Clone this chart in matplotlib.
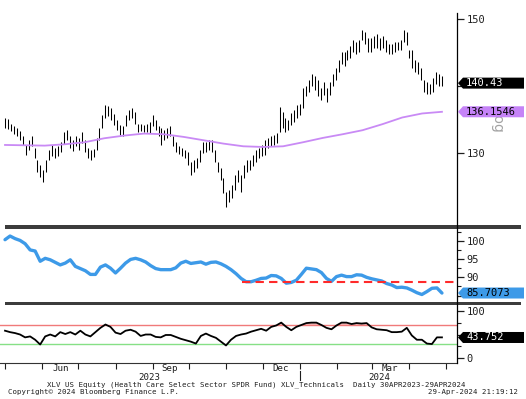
import numpy as np
import pandas as pd
import matplotlib
matplotlib.use("Agg")
import matplotlib.pyplot as plt
import matplotlib.dates as mdates
from matplotlib.patches import Polygon, Rectangle
from matplotlib.lines import Line2D
from matplotlib.transforms import IdentityTransform

plt.rcParams['font.family'] = ['DejaVu Sans Mono', 'DejaVu Sans']

# ---- data ----
FIRST_DAY = '2023-05-01'
LAST_DAY = '2024-04-28'
X_START = pd.Timestamp('2023-04-26 20:00')
X_END = pd.Timestamp('2024-05-10 12:00')

price_hi = [135.2, 135.1, 134.3, 134.0, 133.7, 133.3, 132.5, 131.2, 131.9, 132.5,
            130.7, 128.9, 128.2, 127.5, 128.9, 130.4, 131.2, 130.7, 131.0, 131.6,
            133.1, 133.4, 132.5, 131.9, 132.5, 132.2, 133.1, 131.9, 130.7, 130.4,
            130.6, 132.2, 133.7, 135.7, 137.2, 137.0, 136.7, 135.8, 134.9, 134.2,
            134.0, 135.7, 136.4, 136.7, 136.1, 134.3, 134.3, 134.2, 134.3, 134.6,
            135.7, 134.9, 134.0, 133.7, 133.4, 133.7, 134.0, 132.5, 131.6, 131.0,
            130.7, 130.4, 130.1, 128.7, 128.9, 129.3, 130.4, 131.6, 131.6, 131.9,
            131.9, 130.4, 128.7, 127.8, 126.3, 124.2, 124.5, 125.2, 126.7, 127.5,
            126.7, 128.2, 128.9, 128.9, 129.7, 130.4, 130.7, 131.2, 131.9, 132.2,
            132.5, 132.7, 133.0, 136.9, 136.1, 135.2, 134.9, 136.0, 136.4, 137.2,
            137.3, 139.7, 140.0, 140.9, 141.8, 141.5, 140.9, 139.7, 140.6, 139.7,
            140.6, 141.8, 142.7, 143.9, 145.1, 145.1, 145.4, 146.0, 146.9, 146.6,
            146.9, 148.4, 148.1, 147.2, 147.2, 147.5, 147.8, 147.2, 147.5, 146.9,
            146.3, 146.3, 146.6, 146.6, 146.9, 148.4, 148.1, 145.4, 145.4, 143.9,
            143.6, 142.7, 140.9, 140.6, 140.3, 141.2, 142.1, 141.8, 141.5]
price_lo = [133.7, 133.6, 133.3, 132.8, 132.5, 131.9, 131.2, 129.7, 130.4, 131.0,
            129.3, 127.2, 126.4, 125.7, 127.2, 128.9, 129.6, 129.3, 129.6, 130.1,
            131.3, 131.9, 130.7, 130.3, 131.0, 130.4, 131.5, 130.1, 129.3, 128.9,
            129.4, 130.4, 131.9, 133.7, 135.2, 135.5, 134.9, 134.2, 133.4, 132.7,
            132.5, 134.0, 134.9, 135.2, 134.3, 133.1, 133.3, 133.1, 133.1, 133.0,
            134.0, 133.4, 132.5, 131.2, 131.9, 132.2, 132.5, 131.0, 130.1, 129.9,
            129.6, 129.3, 128.2, 126.7, 127.2, 127.8, 128.7, 130.0, 130.1, 130.4,
            130.1, 128.7, 127.2, 126.0, 124.0, 122.0, 122.7, 123.3, 124.5, 125.7,
            124.2, 126.3, 127.2, 127.5, 128.1, 128.7, 129.3, 129.6, 129.7, 130.7,
            131.0, 131.2, 131.5, 133.1, 133.7, 133.1, 133.4, 134.2, 134.6, 135.2,
            135.7, 136.7, 138.5, 139.1, 140.0, 139.4, 138.5, 137.9, 138.7, 137.6,
            138.7, 140.0, 140.9, 142.1, 143.3, 143.0, 143.9, 144.2, 145.1, 144.8,
            145.1, 146.9, 146.3, 145.1, 145.1, 145.7, 145.7, 145.4, 145.7, 145.1,
            144.8, 144.8, 145.1, 145.4, 145.4, 146.6, 146.1, 144.2, 142.7, 142.1,
            141.8, 140.9, 139.1, 138.8, 138.8, 139.1, 140.3, 140.0, 140.0]
ma200 = [131.2, 131.15, 131.1, 131.3, 131.6, 132.2, 132.6, 132.9, 132.8, 132.4,
         131.9, 131.4, 131.0, 130.9, 131.0, 131.6, 132.25, 132.8, 133.4, 134.3,
         135.3, 135.9, 136.15]
rel_perf = [100.3, 101.3, 100.6, 100.1, 99.2, 97.5, 97.2, 94.4, 95.2, 94.8,
            94.1, 93.4, 93.9, 94.8, 93.0, 92.4, 91.8, 90.8, 90.8, 92.8,
            93.4, 92.5, 91.2, 92.5, 93.9, 94.9, 95.2, 94.8, 94.2, 93.2,
            92.4, 92.1, 92.1, 92.1, 92.6, 93.9, 94.4, 93.8, 94.0, 94.2,
            93.6, 94.1, 94.2, 93.7, 93.0, 92.1, 91.0, 89.7, 88.8, 88.8,
            89.2, 89.7, 89.8, 90.5, 90.4, 89.7, 88.4, 88.6, 89.2, 90.8,
            92.5, 92.3, 92.1, 91.3, 89.7, 88.9, 90.2, 90.6, 90.2, 90.2,
            90.7, 90.6, 90.0, 89.6, 89.3, 89.0, 88.3, 87.9, 87.2, 87.3,
            87.1, 86.5, 85.8, 85.3, 86.1, 87.0, 87.1, 85.7]
rsi = [58, 55, 53, 50, 44, 46, 39, 29, 46, 50, 46, 55, 51, 55, 50, 58, 50, 46,
       55, 64, 71, 66, 54, 51, 58, 60, 56, 47, 50, 50, 45, 44, 49, 49, 45, 41,
       38, 35, 31, 47, 52, 47, 43, 35, 27, 39, 47, 50, 52, 56, 59, 62, 58, 66,
       69, 75, 66, 59, 66, 70, 74, 75, 75, 70, 64, 61, 69, 75, 75, 72, 74, 73,
       74, 65, 61, 60, 59, 55, 55, 56, 64, 48, 39, 39, 31, 30, 44, 44]
support_level = 88.7
support_from = pd.Timestamp('2023-11-14')

last_price, last_ma, last_rel, last_rsi = 140.43, 136.1546, 85.7073, 43.752

price_dates = pd.date_range(FIRST_DAY, LAST_DAY, periods=len(price_hi))
ma_dates = pd.date_range(FIRST_DAY, LAST_DAY, periods=len(ma200))
rel_dates = pd.date_range(FIRST_DAY, LAST_DAY, periods=len(rel_perf))
rsi_dates = pd.date_range(FIRST_DAY, LAST_DAY, periods=len(rsi))

month_labels = ['Jun', 'Sep', 'Dec', 'Mar']
month_label_dates = pd.to_datetime(['2023-06-16', '2023-09-15', '2023-12-16', '2024-03-16'])
year_labels = ['2023', '2024']
year_label_dates = pd.to_datetime(['2023-08-29', '2024-03-07'])
year_break = pd.Timestamp('2024-01-01')

# ---- layout ----
W, H = 526, 399
fig = plt.figure(figsize=(W / 100, H / 100), dpi=100)
TXT = '#1e1e1e'


def rect(top, bottom):
    return [0, 1 - bottom / H, 457 / W, (bottom - top) / H]


ax1 = fig.add_axes(rect(13, 225))
ax2 = fig.add_axes(rect(228, 302))
ax3 = fig.add_axes(rect(305, 362.5))

for ax in (ax1, ax2, ax3):
    ax.set_xlim(X_START, X_END)
    for s in ax.spines.values():
        s.set_visible(False)
    ax.yaxis.tick_right()
    ax.tick_params(axis='y', which='major', direction='out', length=5, width=0.9,
                   pad=2, labelsize=7.5, colors=TXT)
    ax.tick_params(axis='y', which='minor', direction='out', length=3, width=0.8,
                   colors=TXT)
    ax.tick_params(axis='x', which='both', bottom=False, labelbottom=False)

# price bars + moving average
ax1.vlines(price_dates, price_lo, price_hi, color='black', lw=0.75)
ax1.plot(ma_dates, ma200, color='#c98af5', lw=1.3)
ax1.set_ylim(119.25, 150.9)
# the 140 label sits under the last-price tag
ax1.set_yticks([130, 140, 150], ['130', '', '150'])

# relative line
ax2.plot(rel_dates, rel_perf, color='#3d9ae8', lw=2.4, solid_capstyle='round')
ax2.hlines(support_level, support_from, X_END, colors='#ff2a2a',
           linestyles=(0, (4, 2.5)), lw=1.5)
ax2.set_ylim(83.25, 103.5)
ax2.set_yticks([85, 90, 95, 100], ['', '90', '95', '100'])
ax2.set_yticks([87.5, 92.5, 97.5, 102.5], minor=True)

# RSI
rsi_a = np.array(rsi, dtype=float)
ax3.fill_between(rsi_dates, rsi_a, 70, where=rsi_a > 70, interpolate=True,
                 color='#f6b8b8', lw=0)
ax3.fill_between(rsi_dates, rsi_a, 30, where=rsi_a < 30, interpolate=True,
                 color='#b8ecb8', lw=0)
ax3.axhline(70, color='#f07a7a', lw=1.0)
ax3.axhline(30, color='#86e086', lw=1.0)
ax3.plot(rsi_dates, rsi_a, color='black', lw=1.3)
ax3.set_ylim(-8.8, 112)
ax3.set_yticks([0, 50, 100], ['0', '', '100'])
ax3.set_yticks([25, 75], minor=True)
ax3.spines['bottom'].set_visible(True)
ax3.spines['bottom'].set_color('#333333')
ax3.spines['bottom'].set_linewidth(0.8)
ax3.xaxis.set_major_locator(mdates.MonthLocator())
ax3.xaxis.set_major_formatter(plt.NullFormatter())
ax3.set_xticks(month_label_dates, month_labels, minor=True)
ax3.tick_params(axis='x', which='major', bottom=True, direction='out', length=4,
                width=0.8, colors=TXT)
ax3.tick_params(axis='x', which='minor', bottom=True, labelbottom=True, length=0,
                pad=0.8, labelsize=6.6, labelcolor=TXT)
xt = ax3.get_xaxis_transform()
year_y = -14.5 / 57.5
for d, lab in zip(year_label_dates, year_labels):
    ax3.text(d, year_y, lab, transform=xt, ha='center', va='center',
             fontsize=6.6, color=TXT, clip_on=False)
ax3.plot([year_break, year_break], [-0.15, -0.31], transform=xt, color=TXT,
         lw=0.8, clip_on=False)

# separators and the right axis line
for top in (225, 301.5):
    fig.add_artist(Rectangle((5, H - top - 3.5), 516, 3.5, transform=IdentityTransform(),
                             fc='#3c3c3c', ec='none', zorder=3))
fig.add_artist(Line2D([457, 457], [H - 13, H - 362.5], transform=IdentityTransform(),
                      color='black', lw=0.9, zorder=4))

# scale marker, partly hidden behind the moving-average tag
fig.text(497 / W, 1 - 121 / H, 'Log', rotation=270, color='#a3a3a3', fontsize=10,
         family='DejaVu Sans', ha='center', va='center', zorder=2)


def tag(ax, val, txt, face, fg):
    y = ax.transData.transform((ax.get_xlim()[0], val))[1]
    verts = [(458, y), (463, y + 5.5), (524, y + 5.5), (524, y - 5.5), (463, y - 5.5)]
    fig.add_artist(Polygon(verts, closed=True, transform=IdentityTransform(),
                           fc=face, ec='none', zorder=5))
    fig.text(466 / W, y / H, txt, color=fg, fontsize=7.5, ha='left', va='center',
             zorder=6)


tag(ax1, last_price, f'{last_price:.2f}', 'black', 'white')
tag(ax1, last_ma, f'{last_ma:.4f}', '#c583f7', 'black')
tag(ax2, last_rel, f'{last_rel:.4f}', '#3d9ae8', 'black')
tag(ax3, last_rsi, f'{last_rsi:.3f}', 'black', 'white')

fig.text(47 / W, 1 - 385 / H,
         'XLV US Equity (Health Care Select Sector SPDR Fund) XLV_Technicals  Daily 30APR2023-29APR2024',
         fontsize=5.3, color=TXT, va='center')
fig.text(8 / W, 1 - 392.2 / H, 'Copyright\u00a9 2024 Bloomberg Finance L.P.',
         fontsize=5.3, color=TXT, va='center')
fig.text(518 / W, 1 - 392.2 / H, '29-Apr-2024 21:19:12', fontsize=5.3, color=TXT,
         ha='right', va='center')

fig.savefig('out.png', dpi=100, facecolor='white')
